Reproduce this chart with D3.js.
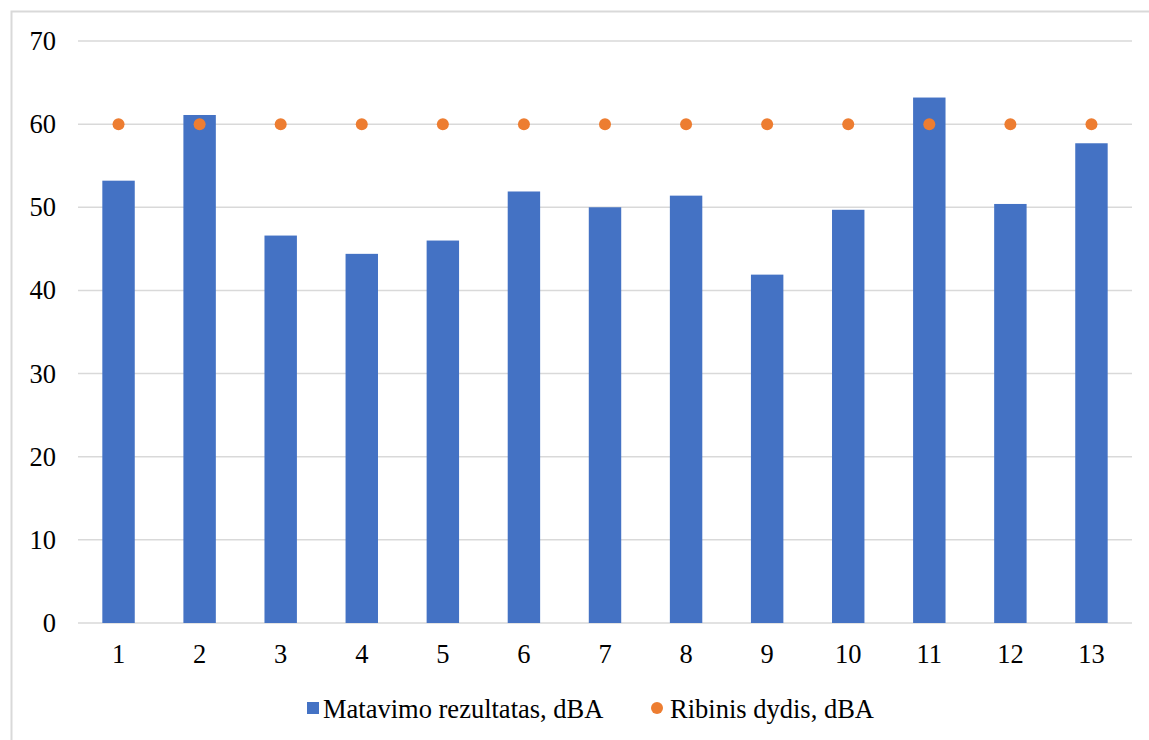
<!DOCTYPE html>
<html>
<head>
<meta charset="utf-8">
<script src="https://cdn.jsdelivr.net/npm/d3@7"></script>
<style>
  html, body { margin: 0; padding: 0; background: #fff; }
  svg { display: block; }
</style>
</head>
<body>
<svg id="chart" width="1149" height="740"></svg>
<script>
const categories = ["1","2","3","4","5","6","7","8","9","10","11","12","13"];
const measured = [53.2, 61.1, 46.6, 44.4, 46.0, 51.9, 50.0, 51.4, 41.9, 49.7, 63.2, 50.4, 57.7];
const limitValues = [60, 60, 60, 60, 60, 60, 60, 60, 60, 60, 60, 60, 60];
const yTicks = [0, 10, 20, 30, 40, 50, 60, 70];
const seriesNames = ["Matavimo rezultatas, dBA", "Ribinis dydis, dBA"];

const barColor = "#4472C4";
const dotColor = "#ED7D31";
const gridColor = "#D9D9D9";
const fontFam = "Liberation Serif";
const fontSize = "26.5px";

const svg = d3.select("#chart");

// outer chart border
svg.append("rect")
  .attr("x", 11.5).attr("y", 11.5)
  .attr("width", 1160).attr("height", 760)
  .attr("fill", "none").attr("stroke", gridColor).attr("stroke-width", 2);

const plotLeft = 78, plotRight = 1132, plotTop = 41, plotBottom = 623;

const x = d3.scaleBand().domain(categories).range([plotLeft, plotRight])
  .paddingInner(0.6).paddingOuter(0.3);
const y = d3.scaleLinear().domain([0, 70]).range([plotBottom, plotTop]);

// gridlines
svg.append("g").selectAll("line").data(yTicks).join("line")
  .attr("x1", plotLeft).attr("x2", plotRight)
  .attr("y1", d => y(d)).attr("y2", d => y(d))
  .attr("stroke", gridColor).attr("stroke-width", 1.5);

// y tick labels via axis
const yAxis = svg.append("g").attr("transform", `translate(${plotLeft},0)`)
  .call(d3.axisLeft(y).tickValues(yTicks).tickSize(0).tickPadding(22));
yAxis.attr("font-family", fontFam).attr("font-size", fontSize);
yAxis.select(".domain").remove();
yAxis.selectAll("text")
  .style("font-family", fontFam)
  .style("font-size", fontSize).attr("fill", "#000");

// x tick labels via axis
const xAxis = svg.append("g").attr("transform", `translate(0,${plotBottom})`)
  .call(d3.axisBottom(x).tickSize(0).tickPadding(21));
xAxis.attr("font-family", fontFam).attr("font-size", fontSize);
xAxis.select(".domain").remove();
xAxis.selectAll("text")
  .style("font-family", fontFam)
  .style("font-size", fontSize).attr("fill", "#000");

// bars
svg.append("g").selectAll("rect").data(measured).join("rect")
  .attr("x", (d, i) => x(categories[i]))
  .attr("width", x.bandwidth())
  .attr("y", d => y(d))
  .attr("height", d => y(0) - y(d))
  .attr("fill", barColor);

// dots
svg.append("g").selectAll("circle").data(limitValues).join("circle")
  .attr("cx", (d, i) => x(categories[i]) + x.bandwidth() / 2)
  .attr("cy", d => y(d))
  .attr("r", 6)
  .attr("fill", dotColor);

// legend
const lg = svg.append("g");
lg.append("rect").attr("x", 307).attr("y", 702).attr("width", 12).attr("height", 12).attr("fill", barColor);
lg.append("text").attr("x", 323).attr("y", 718)
  .style("font-family", fontFam).style("font-size", fontSize).attr("fill", "#000")
  .text(seriesNames[0]);
lg.append("circle").attr("cx", 657).attr("cy", 708).attr("r", 6).attr("fill", dotColor);
lg.append("text").attr("x", 670).attr("y", 718)
  .style("font-family", fontFam).style("font-size", fontSize).attr("fill", "#000")
  .text(seriesNames[1]);
</script>
</body>
</html>
